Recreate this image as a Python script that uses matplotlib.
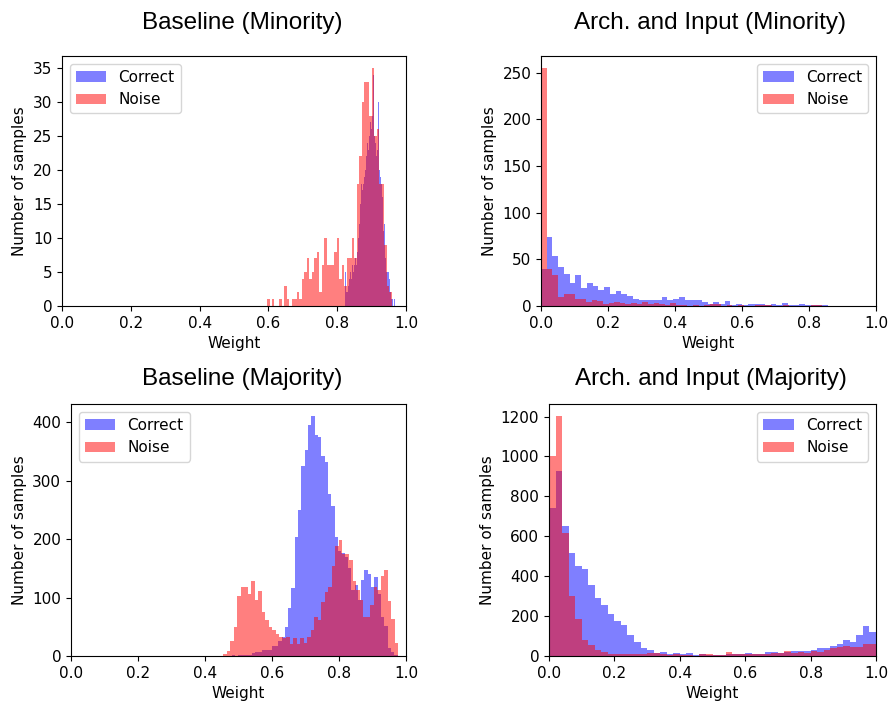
import numpy as np
import matplotlib
matplotlib.use('Agg')
import matplotlib.pyplot as plt

# bin counts, 50 bins per series
# Baseline (Minority)
bm_correct_range = (0.824, 0.968)
bm_correct = [5, 2, 2, 3, 4, 5, 4, 6, 5, 6,
              7, 6, 8, 10, 12, 15, 18, 17, 18, 19,
              20, 22, 24, 23, 25, 27, 26, 28, 34, 25,
              24, 22, 23, 30, 20, 19, 18, 16, 11, 12,
              7, 5, 5, 5, 4, 2, 1, 1, 0, 1]
bm_noise_range = (0.596, 0.958)
bm_noise = [1, 0, 1, 0, 0, 1, 0, 3, 1, 0,
            1, 1, 2, 1, 4, 5, 7, 4, 5, 7,
            8, 2, 6, 10, 6, 6, 6, 8, 10, 4,
            6, 3, 7, 7, 10, 7, 18, 22, 30, 33,
            33, 28, 35, 25, 26, 18, 18, 9, 3, 2]

# Arch. and Input (Minority)
am_correct_range = (0.0, 0.857)
am_correct = [40, 74, 54, 42, 34, 25, 33, 19, 25, 21,
              17, 20, 13, 16, 13, 11, 8, 6, 6, 6,
              6, 10, 6, 8, 10, 6, 6, 6, 4, 2,
              4, 2, 5, 1, 2, 1, 2, 2, 2, 1,
              2, 1, 3, 1, 1, 2, 1, 1, 1, 1]
am_noise_range = (0.0, 0.84)
am_noise = [255, 40, 33, 10, 13, 13, 7, 7, 4, 6,
            5, 2, 3, 4, 3, 2, 3, 2, 4, 2,
            3, 2, 1, 3, 1, 1, 0, 1, 0, 1,
            2, 2, 0, 1, 0, 1, 0, 0, 1, 1,
            1, 0, 0, 1, 0, 0, 0, 0, 1, 1]

# Baseline (Majority)
bj_correct_range = (0.48, 0.975)
bj_correct = [1, 0, 1, 1, 2, 2, 5, 7, 7, 11,
              10, 11, 17, 17, 25, 32, 50, 83, 117, 203,
              250, 325, 353, 395, 411, 378, 375, 343, 333, 277,
              257, 203, 180, 176, 170, 150, 113, 122, 96, 131,
              147, 140, 119, 136, 107, 67, 52, 14, 6, 2]
bj_noise_range = (0.455, 0.977)
bj_noise = [3, 9, 26, 50, 102, 119, 119, 107, 129, 96,
            112, 76, 62, 50, 44, 37, 32, 30, 33, 20,
            30, 21, 30, 22, 32, 44, 67, 61, 92, 109,
            118, 154, 188, 198, 175, 174, 164, 129, 113, 96,
            66, 67, 88, 119, 113, 137, 147, 95, 63, 22]

# Arch. and Input (Majority)
aj_correct_range = (0.0, 1.0)
aj_correct = [743, 925, 651, 516, 451, 435, 354, 289, 258, 213,
              177, 157, 106, 71, 41, 30, 15, 20, 10, 15,
              10, 15, 5, 10, 5, 5, 5, 10, 10, 10,
              15, 10, 10, 20, 20, 15, 20, 25, 25, 25,
              30, 41, 41, 51, 61, 81, 71, 106, 152, 122]
aj_noise_range = (0.0, 1.0)
aj_noise = [1001, 1203, 616, 299, 187, 81, 54, 30, 20, 10,
            10, 10, 10, 10, 10, 15, 15, 10, 5, 10,
            5, 5, 0, 10, 10, 5, 5, 20, 10, 10,
            10, 10, 10, 10, 15, 15, 25, 15, 20, 15,
            25, 20, 30, 41, 46, 51, 46, 46, 61, 61]

panels = [
    ('Baseline (Minority)', bm_correct_range, bm_correct, bm_noise_range, bm_noise, 'upper left', np.arange(0, 36, 5)),
    ('Arch. and Input (Minority)', am_correct_range, am_correct, am_noise_range, am_noise, 'upper right', np.arange(0, 251, 50)),
    ('Baseline (Majority)', bj_correct_range, bj_correct, bj_noise_range, bj_noise, 'upper left', np.arange(0, 401, 100)),
    ('Arch. and Input (Majority)', aj_correct_range, aj_correct, aj_noise_range, aj_noise, 'upper right', np.arange(0, 1201, 200)),
]

W, H = 890, 703
# axes boxes in pixels: left, right, top, bottom
boxes = [(62, 406, 56, 306), (541, 876, 56, 306), (71, 406, 404, 656), (549, 876, 404, 656)]
title_pos = [(242, 23), (710, 23), (242, 379), (711, 379)]

fig = plt.figure(figsize=(W / 100, H / 100), dpi=100)

for (title, c_rng, c_vals, n_rng, n_vals, loc, yt), (l, r, t, b), (tx, ty) in zip(panels, boxes, title_pos):
    ax = fig.add_axes([l / W, 1 - b / H, (r - l) / W, (b - t) / H])
    c_edges = np.linspace(c_rng[0], c_rng[1], len(c_vals) + 1)
    n_edges = np.linspace(n_rng[0], n_rng[1], len(n_vals) + 1)
    ax.hist(c_edges[:-1], bins=c_edges, weights=c_vals, color='blue', alpha=0.5, label='Correct')
    ax.hist(n_edges[:-1], bins=n_edges, weights=n_vals, color='red', alpha=0.5, label='Noise')
    ax.set_xlim(0, 1)
    ax.set_xticks(np.arange(0, 1.01, 0.2))
    ax.set_yticks(yt)
    ax.tick_params(labelsize=11)
    ax.set_xlabel('Weight', fontsize=11)
    ax.set_ylabel('Number of samples', fontsize=11)
    ax.legend(loc=loc, fontsize=11)
    fig.text(tx / W, 1 - ty / H, title, ha='center', va='center',
             fontsize=17.5, family='Liberation Sans')

fig.savefig('out.png', dpi=100)
